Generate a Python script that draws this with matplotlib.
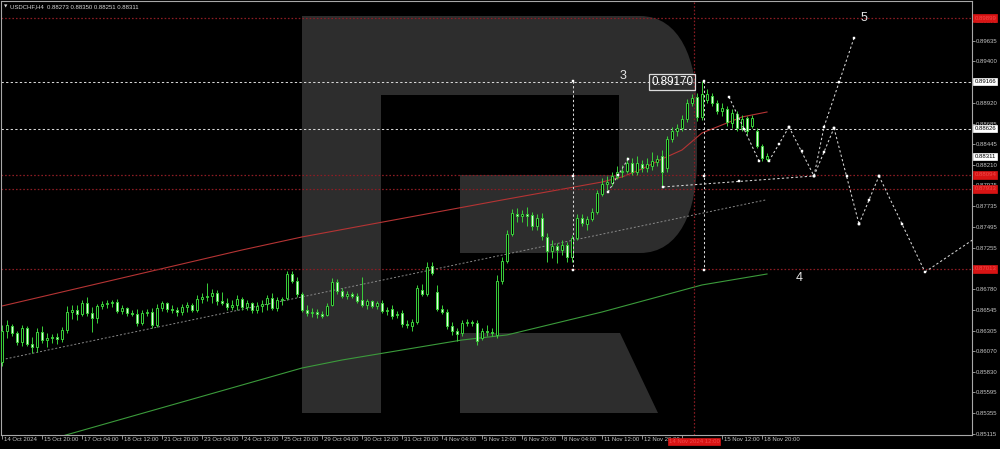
import matplotlib
matplotlib.use("Agg")
import matplotlib.pyplot as plt
import matplotlib.transforms as mtransforms
from matplotlib.path import Path
from matplotlib.patches import PathPatch, Polygon
import numpy as np

plt.rcParams['font.family'] = ['Liberation Sans', 'DejaVu Sans']

# ---- data ----
symbol = "USDCHF,H4"
last_ohlc = [0.88273, 0.88350, 0.88251, 0.88311]

opens = [
    0.85943, 0.86300, 0.86357, 0.86277, 0.86173, 0.86334, 0.86150, 0.86116, 0.86288, 0.86196,
    0.86219, 0.86231, 0.86208, 0.86311, 0.86518, 0.86541, 0.86495, 0.86622, 0.86507, 0.86449,
    0.86587, 0.86610, 0.86622, 0.86633, 0.86530, 0.86564, 0.86507, 0.86495, 0.86392, 0.86507,
    0.86518, 0.86369, 0.86564, 0.86622, 0.86553, 0.86541, 0.86518, 0.86576, 0.86599, 0.86541,
    0.86668, 0.86691, 0.86702, 0.86737, 0.86645, 0.86622, 0.86576, 0.86599, 0.86668, 0.86576,
    0.86622, 0.86541, 0.86587, 0.86610, 0.86679, 0.86564, 0.86656, 0.86679, 0.86955, 0.86875,
    0.86725, 0.86541, 0.86507, 0.86518, 0.86495, 0.86484, 0.86599, 0.86863, 0.86760, 0.86702,
    0.86725, 0.86702, 0.86656, 0.86599, 0.86645, 0.86587, 0.86622, 0.86530, 0.86553, 0.86484,
    0.86507, 0.86380, 0.86357, 0.86403, 0.86771, 0.86725, 0.87047, 0.86748, 0.86553, 0.86518,
    0.86357, 0.86300, 0.86277, 0.86392, 0.86403, 0.86392, 0.86219, 0.86300, 0.86288, 0.86254,
    0.86875, 0.87105, 0.87415, 0.87645, 0.87622, 0.87645, 0.87634, 0.87507, 0.87599, 0.87381,
    0.87220, 0.87277, 0.87231, 0.87289, 0.87151, 0.87369, 0.87599, 0.87530, 0.87588, 0.87668,
    0.87875, 0.87990, 0.88002, 0.88071, 0.88128, 0.88140, 0.88232, 0.88128, 0.88220, 0.88174,
    0.88197, 0.88243, 0.88312, 0.88174, 0.88508, 0.88600, 0.88634, 0.88738, 0.88922, 0.88991,
    0.88761, 0.88956, 0.89002, 0.88922, 0.88830, 0.88853, 0.88692, 0.88795, 0.88634, 0.88749,
    0.88657, 0.88600, 0.88427, 0.88273]
highs = [
    0.86369, 0.86426, 0.86380, 0.86300, 0.86369, 0.86357, 0.86231, 0.86334, 0.86357, 0.86277,
    0.86265, 0.86277, 0.86346, 0.86587, 0.86599, 0.86599, 0.86656, 0.86691, 0.86576, 0.86610,
    0.86645, 0.86656, 0.86656, 0.86668, 0.86599, 0.86576, 0.86541, 0.86553, 0.86541, 0.86553,
    0.86564, 0.86610, 0.86645, 0.86633, 0.86599, 0.86576, 0.86610, 0.86633, 0.86622, 0.86714,
    0.86737, 0.86852, 0.86783, 0.86771, 0.86748, 0.86679, 0.86656, 0.86714, 0.86691, 0.86656,
    0.86633, 0.86633, 0.86656, 0.86714, 0.86737, 0.86691, 0.86691, 0.86990, 0.86990, 0.86921,
    0.86748, 0.86599, 0.86564, 0.86553, 0.86530, 0.86622, 0.86909, 0.86898, 0.86794, 0.86760,
    0.86748, 0.86737, 0.86921, 0.86668, 0.86656, 0.86645, 0.86656, 0.86576, 0.86599, 0.86530,
    0.86541, 0.86426, 0.86438, 0.86829, 0.86840, 0.87093, 0.87093, 0.86829, 0.86599, 0.86553,
    0.86403, 0.86334, 0.86426, 0.86438, 0.86426, 0.86426, 0.86334, 0.86369, 0.86334, 0.86944,
    0.87151, 0.87461, 0.87703, 0.87714, 0.87691, 0.87726, 0.87668, 0.87645, 0.87657, 0.87427,
    0.87346, 0.87312, 0.87346, 0.87323, 0.87404, 0.87645, 0.87645, 0.87622, 0.87714, 0.87921,
    0.88059, 0.88082, 0.88128, 0.88197, 0.88209, 0.88301, 0.88289, 0.88312, 0.88266, 0.88289,
    0.88358, 0.88324, 0.88381, 0.88542, 0.88646, 0.88680, 0.88784, 0.88968, 0.89025, 0.89037,
    0.89170, 0.89082, 0.89037, 0.88956, 0.88922, 0.88887, 0.88853, 0.88830, 0.88784, 0.88772,
    0.88784, 0.88634, 0.88450, 0.88350]
lows = [
    0.85897, 0.86219, 0.86242, 0.86139, 0.86127, 0.86127, 0.86047, 0.86058, 0.86162, 0.86116,
    0.86162, 0.86150, 0.86173, 0.86277, 0.86438, 0.86426, 0.86472, 0.86472, 0.86288, 0.86392,
    0.86553, 0.86564, 0.86576, 0.86507, 0.86495, 0.86472, 0.86472, 0.86357, 0.86369, 0.86472,
    0.86334, 0.86346, 0.86530, 0.86518, 0.86507, 0.86472, 0.86484, 0.86518, 0.86518, 0.86518,
    0.86622, 0.86645, 0.86622, 0.86599, 0.86599, 0.86541, 0.86541, 0.86541, 0.86541, 0.86541,
    0.86507, 0.86507, 0.86518, 0.86541, 0.86541, 0.86530, 0.86599, 0.86656, 0.86852, 0.86691,
    0.86518, 0.86472, 0.86461, 0.86449, 0.86449, 0.86472, 0.86587, 0.86725, 0.86679, 0.86668,
    0.86679, 0.86622, 0.86576, 0.86553, 0.86564, 0.86553, 0.86507, 0.86484, 0.86438, 0.86449,
    0.86346, 0.86334, 0.86300, 0.86380, 0.86702, 0.86702, 0.86944, 0.86530, 0.86495, 0.86323,
    0.86254, 0.86185, 0.86242, 0.86357, 0.86357, 0.86139, 0.86196, 0.86242, 0.86242, 0.86219,
    0.86840, 0.87082, 0.87392, 0.87553, 0.87553, 0.87507, 0.87461, 0.87461, 0.87346, 0.87093,
    0.87139, 0.87082, 0.87174, 0.87093, 0.87093, 0.87346, 0.87507, 0.87461, 0.87565, 0.87645,
    0.87852, 0.87921, 0.87967, 0.88048, 0.88071, 0.88117, 0.88094, 0.88094, 0.88128, 0.88128,
    0.88151, 0.88197, 0.87956, 0.88128, 0.88473, 0.88542, 0.88600, 0.88703, 0.88887, 0.88715,
    0.88726, 0.88922, 0.88887, 0.88795, 0.88772, 0.88657, 0.88634, 0.88600, 0.88600, 0.88554,
    0.88634, 0.88404, 0.88255, 0.88251]
closes = [
    0.86300, 0.86369, 0.86277, 0.86173, 0.86334, 0.86150, 0.86116, 0.86288, 0.86196, 0.86219,
    0.86231, 0.86208, 0.86311, 0.86518, 0.86541, 0.86495, 0.86622, 0.86507, 0.86449, 0.86587,
    0.86610, 0.86622, 0.86633, 0.86530, 0.86564, 0.86507, 0.86495, 0.86392, 0.86507, 0.86518,
    0.86369, 0.86564, 0.86622, 0.86553, 0.86541, 0.86518, 0.86576, 0.86599, 0.86541, 0.86668,
    0.86691, 0.86702, 0.86737, 0.86645, 0.86622, 0.86576, 0.86599, 0.86668, 0.86576, 0.86622,
    0.86541, 0.86587, 0.86610, 0.86679, 0.86564, 0.86656, 0.86668, 0.86955, 0.86875, 0.86725,
    0.86541, 0.86507, 0.86518, 0.86495, 0.86472, 0.86587, 0.86863, 0.86760, 0.86702, 0.86725,
    0.86702, 0.86645, 0.86599, 0.86645, 0.86587, 0.86622, 0.86530, 0.86541, 0.86472, 0.86495,
    0.86380, 0.86369, 0.86403, 0.86794, 0.86725, 0.87036, 0.86967, 0.86553, 0.86518, 0.86357,
    0.86300, 0.86265, 0.86392, 0.86403, 0.86392, 0.86185, 0.86300, 0.86288, 0.86277, 0.86875,
    0.87105, 0.87415, 0.87657, 0.87622, 0.87645, 0.87622, 0.87507, 0.87599, 0.87392, 0.87220,
    0.87277, 0.87231, 0.87289, 0.87151, 0.87369, 0.87599, 0.87542, 0.87588, 0.87668, 0.87887,
    0.87990, 0.88013, 0.88082, 0.88128, 0.88140, 0.88232, 0.88128, 0.88232, 0.88174, 0.88220,
    0.88255, 0.88278, 0.88128, 0.88508, 0.88600, 0.88634, 0.88738, 0.88922, 0.88979, 0.88761,
    0.89025, 0.89025, 0.88922, 0.88830, 0.88864, 0.88703, 0.88807, 0.88634, 0.88738, 0.88600,
    0.88749, 0.88427, 0.88289, 0.88311]

# the label under the red time box is hidden in the original, left blank here
time_labels = ["14 Oct 2024", "15 Oct 20:00", "17 Oct 04:00", "18 Oct 12:00", "21 Oct 20:00",
               "23 Oct 04:00", "24 Oct 12:00", "25 Oct 20:00", "29 Oct 04:00", "30 Oct 12:00",
               "31 Oct 20:00", "4 Nov 04:00", "5 Nov 12:00", "6 Nov 20:00", "8 Nov 04:00",
               "11 Nov 12:00", "12 Nov 20:00", "", "15 Nov 12:00", "18 Nov 20:00"]
bars_per_label = 8

price_ticks = [0.85115, 0.85355, 0.85595, 0.85830, 0.86070, 0.86305, 0.86545, 0.86780,
               0.87015, 0.87255, 0.87495, 0.87735, 0.87975, 0.88210, 0.88445, 0.88685,
               0.88920, 0.89160, 0.89400, 0.89635, 0.89870]

# indicator lines (bar index, price)
red_idx = [0, 48, 60, 100, 120, 124, 128, 132, 136, 140, 144, 148, 153]
red_val = [0.86587, 0.87231, 0.87381, 0.87806, 0.88013, 0.88071, 0.88163, 0.88278,
           0.88381, 0.88577, 0.88669, 0.88761, 0.88818]
green_idx = [10, 60, 68, 92, 101, 120, 140, 153]
green_val = [0.85058, 0.85874, 0.85966, 0.86196, 0.86254, 0.86518, 0.86829, 0.86955]
channel_idx = [0, 153]
channel_val = [0.85970, 0.87810]

# horizontal levels
white_levels = [0.89166, 0.88626]
red_levels = [0.89899, 0.88094, 0.87933, 0.87013]
marker_time = 138.4
marker_time_label = "14 Nov 2024 12:00"

# wave markup lines (with handles), and plain ones
wave_lines = [
    ([114.2, 114.2], [0.89170, 0.87001]),
    ([140.4, 140.4], [0.89170, 0.87001]),
    ([121.2, 125.2], [0.87898, 0.88278]),
    ([132.2, 162.4], [0.87956, 0.88082]),
    ([145.4, 151.4], [0.88991, 0.88255]),
    ([153.4, 157.4], [0.88255, 0.88646]),
    ([157.4, 162.4], [0.88646, 0.88082]),
    ([162.4, 166.4], [0.88082, 0.88634]),
    ([164.4, 170.4], [0.88646, 0.89669]),
    ([166.4, 171.4], [0.88634, 0.87530]),
    ([171.4, 175.4], [0.87530, 0.88082]),
    ([175.4, 184.6], [0.88082, 0.86978]),
]
plain_lines = [
    ([162.4, 164.4], [0.88082, 0.88646]),
    ([184.6, 196.0], [0.86978, 0.87420]),
]
wave_labels = [("3", 124.2, 0.89232), ("5", 172.4, 0.89899), ("4", 159.4, 0.86909)]
peak_label = ("0.89170", 134.0, 0.89163)

# ---- colours ----
GREEN = '#3ad13a'
PALE = '#e4fbe4'
RED_DOT = '#8c1d24'
RED_BOX = '#d81414'
WHITE_DOT = '#d8d8d8'
TXT = '#c4c4c4'
FONT = 4.3

fig = plt.figure(figsize=(10, 4.49), dpi=100, facecolor='black')

# watermark logo (pixel space)
bg = fig.add_axes([0, 0, 1, 1], zorder=0)
bg.set_xlim(0, 1000)
bg.set_ylim(449, 0)
bg.axis('off')
M, L, C4, CL = Path.MOVETO, Path.LINETO, Path.CURVE4, Path.CLOSEPOLY
verts = [(302, 413), (302, 16), (640, 16), (680, 16), (697, 60), (697, 110),
         (697, 160), (697, 210), (680, 253), (640, 253), (460, 253), (460, 175),
         (619, 175), (619, 95), (381, 95), (381, 413), (302, 413)]
codes = [M, L, L, C4, C4, C4, L, C4, C4, C4, L, L, L, L, L, L, CL]
logo_col = '#2d2d2d'
bg.add_patch(PathPatch(Path(verts, codes), fc=logo_col, ec='none'))
bg.add_patch(Polygon([(460, 333), (620, 333), (658, 413), (460, 413)], closed=True,
                     fc=logo_col, ec='none'))

ax = fig.add_axes([0.001, 14 / 449, 0.971, 434 / 449], zorder=1)
ax.set_facecolor('none')

o = np.array(opens)
h = np.array(highs)
l = np.array(lows)
c = np.array(closes)
idx = np.arange(len(o))
up = c >= o

# indicator lines
ax.plot(red_idx, red_val, color='#b53434', lw=0.8, zorder=2)
ax.plot(green_idx, green_val, color='#3b9b3b', lw=0.8, zorder=2)
ax.plot(channel_idx, channel_val, color='#8a8a8a', lw=0.7, ls=(0, (2, 2)), zorder=2)

for p in white_levels:
    ax.axhline(p, color=WHITE_DOT, lw=0.75, ls=(0, (2.2, 2.2)), zorder=2)
for p in red_levels:
    ax.axhline(p, color=RED_DOT, lw=0.9, ls=(0, (1.3, 1.6)), zorder=2)
ax.axvline(marker_time, color=RED_DOT, lw=0.9, ls=(0, (1.3, 1.6)), zorder=2)

# candles
ax.vlines(idx, l, h, color=GREEN, lw=0.7, zorder=3)
ax.bar(idx[up], (c - o)[up], bottom=o[up], width=0.55, color='black',
       edgecolor=GREEN, lw=0.7, zorder=4)
ax.bar(idx[~up], (o - c)[~up], bottom=c[~up], width=0.55, color=PALE,
       edgecolor=GREEN, lw=0.7, zorder=4)

# wave markup
for xs, ys in wave_lines:
    ax.plot(xs, ys, color=WHITE_DOT, lw=0.75, ls=(0, (2.2, 2.2)), zorder=5)
    hx = [xs[0], (xs[0] + xs[1]) / 2, xs[1]]
    hy = [ys[0], (ys[0] + ys[1]) / 2, ys[1]]
    ax.plot(hx, hy, 's', ms=2.0, color='white', mec='white', mew=0.3, zorder=6)
for xs, ys in plain_lines:
    ax.plot(xs, ys, color=WHITE_DOT, lw=0.75, ls=(0, (2.2, 2.2)), zorder=5)

for t, x, y in wave_labels:
    ax.text(x, y, t, color='#e6e6e6', fontsize=9, ha='center', va='center', zorder=7)
ax.text(peak_label[1], peak_label[2], peak_label[0], color='white', fontsize=8.4,
        ha='center', va='center', zorder=7,
        bbox=dict(boxstyle='square,pad=0.2', fc='none', ec='#dcdcdc', lw=0.9))

# axes
ax.set_xlim(-0.2, 194)
ax.set_ylim(0.851035, 0.900945)
for s in ax.spines.values():
    s.set_color('#a8a8a8')
    s.set_linewidth(0.8)

ax.yaxis.tick_right()
ax.set_yticks(price_ticks)
ax.set_yticklabels([f"{v:.5f}" for v in price_ticks])
ax.tick_params(axis='y', colors='#a8a8a8', labelcolor=TXT, labelsize=FONT,
               length=2.2, width=0.6, pad=0.8)

tick_pos = idx[::bars_per_label]
ax.set_xticks(tick_pos)
ax.set_xticklabels(time_labels)
ax.tick_params(axis='x', colors='#a8a8a8', labelcolor=TXT, labelsize=FONT,
               length=3.0, width=0.6, pad=-1.6)
shift = mtransforms.ScaledTranslation(1.5 / 100, 0, fig.dpi_scale_trans)
for lbl in ax.get_xticklabels():
    lbl.set_ha('left')
    lbl.set_transform(lbl.get_transform() + shift)

# price boxes on the axis
ytr = ax.get_yaxis_transform()
for p in white_levels + [last_ohlc[3]]:
    ax.text(1.0025, p, f"{p:.5f}", transform=ytr, fontsize=FONT, color='black',
            ha='left', va='center', clip_on=False, zorder=10,
            bbox=dict(boxstyle='square,pad=0.18', fc='white', ec='white', lw=0.5))
for p in red_levels:
    ax.text(1.0025, p, f"{p:.5f}", transform=ytr, fontsize=FONT, color='#f04a4a',
            ha='left', va='center', clip_on=False, zorder=10,
            bbox=dict(boxstyle='square,pad=0.18', fc=RED_BOX, ec=RED_BOX, lw=0.5))
xtr = ax.get_xaxis_transform()
ax.text(marker_time, -0.0155, marker_time_label, transform=xtr, fontsize=FONT,
        color='#f04a4a', ha='center', va='center', clip_on=False, zorder=10,
        bbox=dict(boxstyle='square,pad=0.15', fc=RED_BOX, ec=RED_BOX, lw=0.5))

# title line
title = f"{symbol}  " + " ".join(f"{v:.5f}" for v in last_ohlc)
fig.text(0.0035, 1 - 6.5 / 449, "\u25bc", fontsize=3.2, color='#d8d8d8',
         va='center', ha='left', family=['DejaVu Sans'])
fig.text(0.0105, 1 - 6.5 / 449, title, fontsize=FONT, color='#d8d8d8',
         va='center', ha='left')

fig.savefig('out.png', dpi=100, facecolor='black')
